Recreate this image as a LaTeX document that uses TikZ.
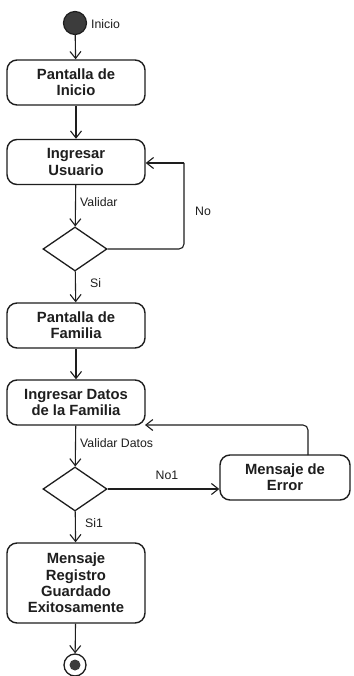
\documentclass[tikz,border=0pt]{standalone}
\usepackage{fontspec}
\setmainfont{Liberation Sans}
\usetikzlibrary{shapes.geometric,arrows.meta}
\definecolor{ink}{HTML}{1E1E1E}
\definecolor{startfill}{HTML}{3C3C3C}
\begin{document}
\begin{tikzpicture}[x=1pt,y=-1pt,
  act/.style={draw=ink,line width=1.4pt,rounded corners=10pt,minimum width=138pt,minimum height=45pt,inner sep=0pt,align=center,text=ink,font=\fontsize{14.8}{16.2}\selectfont\bfseries},
  dec/.style={draw=ink,line width=1.3pt,diamond,minimum width=64pt,minimum height=44pt,inner sep=0pt,aspect=1.45},
  flow/.style={draw=ink,line width=1.1pt,-{Straight Barb[length=7pt,width=11pt,line width=1.1pt]}},
  lbl/.style={text=ink,font=\fontsize{12.3}{14}\selectfont,inner sep=0pt}]
\useasboundingbox (0,0) rectangle (353,676);
\fill[white] (0,0) rectangle (353,676);
% start
\node[circle,draw=ink,fill=startfill,line width=1.2pt,minimum size=23pt,inner sep=0pt] (start) at (75,23) {};
\node[lbl,anchor=west] (startlbl) at (91,24) {Inicio};
% activities
\node[act] (b1) at (76,82.5) {Pantalla de\\Inicio};
\node[act] (b2) at (76,162) {Ingresar\\Usuario};
\node[dec] (d1) at (75,249) {};
\node[act] (b3) at (76,325.5) {Pantalla de\\Familia};
\node[act] (b4) at (76,402.5) {Ingresar Datos\\de la Familia};
\node[dec] (d2) at (75,489) {};
\node[act,minimum width=130pt] (err) at (285,477.5) {Mensaje de\\Error};
\node[act,minimum height=80pt] (b5) at (76,583) {Mensaje\\Registro\\Guardado\\Exitosamente};
% end
\node[circle,draw=ink,fill=white,line width=1.3pt,minimum size=22pt,inner sep=0pt] (endc) at (75,665) {};
\node[circle,fill=startfill,minimum size=11pt,inner sep=0pt] (endin) at (75,665) {};
% coordinates
\coordinate (c1) at (184,249);
\coordinate (c1b) at (184,163);
\coordinate (c2) at (308,455);
\coordinate (c2b) at (308,425);
\coordinate (c2c) at (145,425);
% connectors
\draw[flow] (start) -- (b1);
\draw[flow] (b1) -- (b2);
\draw[flow] (b2) -- (d1);
\draw[draw=ink,line width=1.1pt,rounded corners=5pt] (d1.east) -- (c1) -- (c1b);
\draw[flow,rounded corners=5pt] (c1b) -- (c1b -| b2.east);
\draw[flow] (d1) -- (b3);
\draw[flow] (b3) -- (b4);
\draw[flow] (b4) -- (d2);
\draw[flow] (d2.east) -- (d2.east -| err.west);
\draw[flow,rounded corners=5pt] (c2) -- (c2b) -- (c2c);
\draw[flow] (d2) -- (b5);
\draw[flow] (b5) -- (endc);
% labels
\node[lbl,anchor=west] (l1) at (80,202) {Validar};
\node[lbl,anchor=west] (l2) at (195,211) {No};
\node[lbl,anchor=west] (l3) at (90,283) {Si};
\node[lbl,anchor=west] (l4) at (80,443) {Validar Datos};
\node[lbl] (l5) at (167,475) {No1};
\node[lbl,anchor=west] (l6) at (85,523) {Si1};
\end{tikzpicture}
\end{document}
